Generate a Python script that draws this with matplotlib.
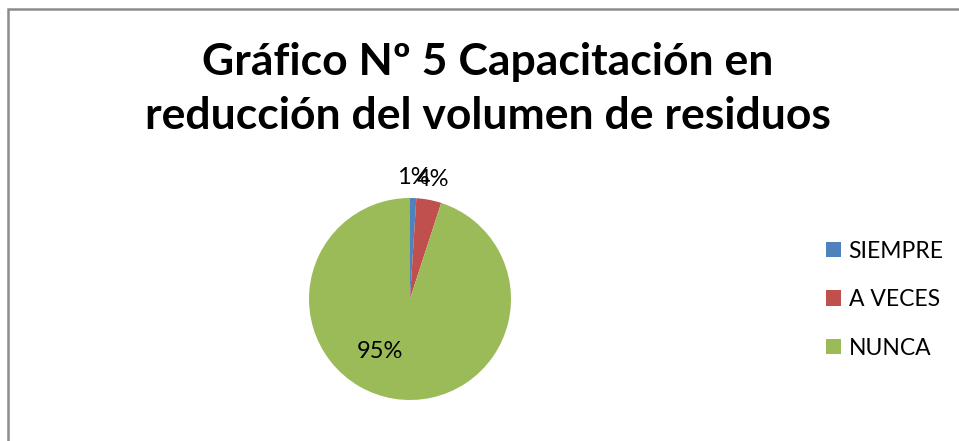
import numpy as np
import matplotlib.pyplot as plt
from matplotlib.patches import Rectangle

categories = ["SIEMPRE", "A VECES", "NUNCA"]
values = [1, 4, 95]
colors = ["#4F81BD", "#C0504D", "#9BBB59"]
title_lines = ["Gráfico Nº 5 Capacitación en", "reducción del volumen de residuos"]

plt.rcParams['font.family'] = ['Lato', 'DejaVu Sans']

W, H = 959, 441
fig = plt.figure(figsize=(W / 100, H / 100), dpi=100)

# chart border (extends past right/bottom edge)
fig.patches.append(Rectangle((8 / W, -0.1), 1.2, (H - 9) / H + 0.1, transform=fig.transFigure,
                             fill=False, edgecolor="#8c8c8c", linewidth=1.8))

# pie axes: center (410, 299), radius 101 px
cx, cy, r = 410, 299, 101
ax = fig.add_axes([(cx - r) / W, (H - cy - r) / H, 2 * r / W, 2 * r / H])
wedges, texts, autotexts = ax.pie(values, colors=colors, startangle=90, counterclock=False,
                                  radius=1, autopct="%1.0f%%", pctdistance=1.2,
                                  textprops=dict(fontsize=17, color="black"),
                                  wedgeprops=dict(linewidth=0))
ax.set_xlim(-1, 1)
ax.set_ylim(-1, 1)
ax.set_aspect("equal")

# large slice label sits inside the pie, lower-left
ang = np.deg2rad(-119.5)
autotexts[2].set_position((0.6 * np.cos(ang), 0.6 * np.sin(ang)))

for line, base in zip(title_lines, [75, 129]):
    fig.text(488 / W, 1 - base / H, line, ha="center", va="baseline", fontsize=32,
             fontweight="bold")

fig.legend(wedges, categories, loc="upper left", bbox_to_anchor=(805 / W, 1 - 220 / H),
           frameon=False, fontsize=16.5, handlelength=0.65, handleheight=0.65,
           handletextpad=0.35, labelspacing=1.2)

fig.savefig("out.png", dpi=100)
